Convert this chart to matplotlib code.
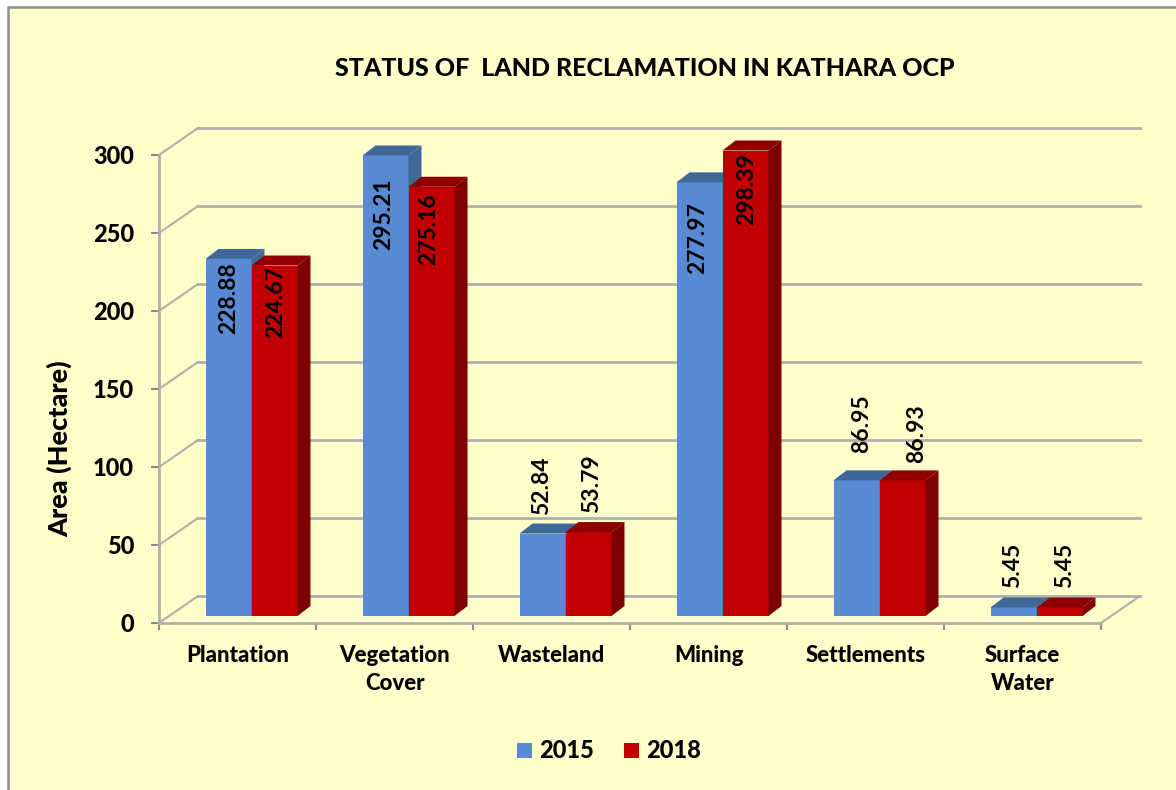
import matplotlib.pyplot as plt
from matplotlib.patches import Polygon, Patch, Rectangle

plt.rcParams['font.family'] = ['Lato', 'DejaVu Sans']

categories = ['Plantation', 'Vegetation\nCover', 'Wasteland', 'Mining', 'Settlements', 'Surface\nWater']
values_2015 = [228.88, 295.21, 52.84, 277.97, 86.95, 5.45]
values_2018 = [224.67, 275.16, 53.79, 298.39, 86.93, 5.45]
y_ticks = [0, 50, 100, 150, 200, 250, 300]

# label centre relative to the bar top centre, in pixels (negative y = inside the bar)
label_shift_2015 = [(0, -39), (-2, -59), (-1, 48), (-2, -56), (5, 57), (-1, 42)]
label_shift_2018 = [(1, -37), (-3, -42), (3, 48), (1, -39), (14, 47), (5, 42)]

W, H = 1176, 790
BG = '#FFFFCC'
GRID = '#B0B0A8'
WEIGHT = 'black'

fig = plt.figure(figsize=(W / 100, H / 100), dpi=100, facecolor='white')

# yellow panel with a grey edge on the left and top
panel = Rectangle((7.5 / W, -0.01), 1.02, 1.01 - 7 / H, transform=fig.transFigure,
                  facecolor=BG, edgecolor='#8C8C8C', linewidth=1.8, zorder=-1)
fig.add_artist(panel)

# axes box is the front of the 3D floor
ax = fig.add_axes([159 / W, 1 - 623 / H, (1101 - 159) / W, (623 - 155) / H])
ax.set_xlim(0, 6)
ax.set_ylim(0, 300)
ax.patch.set_alpha(0)

px_x = 6 / (1101 - 159)
px_y = 300 / (623 - 155)

# depth of the chart floor and where the bars stand on it
wall_dx, wall_dy = 39 * px_x, 27 * px_y
bar_dx, bar_dy = 14 * px_x, 7 * px_y
side_dx, side_dy = 13 * px_x, 10 * px_y
bar_w = 46 * px_x

# back wall grid lines and their diagonals
for v in y_ticks:
    ax.plot([wall_dx, 6 + wall_dx], [v + wall_dy, v + wall_dy], color=GRID, lw=2.0,
            clip_on=False, zorder=1)
    ax.plot([0, wall_dx], [v, v + wall_dy], color=GRID, lw=1.5, clip_on=False, zorder=1)
ax.plot([6, 6 + wall_dx], [0, wall_dy], color=GRID, lw=1.5, clip_on=False, zorder=1)


def draw_bar(x, value, front, top, side):
    base = bar_dy
    height = value
    ax.bar(x, height, bar_w, bottom=base, align='edge', color=front, linewidth=0, zorder=3, clip_on=False)
    y1 = base + height
    ax.add_patch(Polygon([(x, y1), (x + side_dx, y1 + side_dy), (x + bar_w + side_dx, y1 + side_dy), (x + bar_w, y1)],
                         facecolor=top, edgecolor='none', zorder=3, clip_on=False))
    ax.add_patch(Polygon([(x + bar_w, base), (x + bar_w + side_dx, base + side_dy),
                          (x + bar_w + side_dx, y1 + side_dy), (x + bar_w, y1)],
                         facecolor=side, edgecolor='none', zorder=3, clip_on=False))


def draw_label(x, value, shift):
    ax.annotate(f'{value:.2f}', (x + bar_w / 2, bar_dy + value),
                xytext=(shift[0] * 0.72, shift[1] * 0.72), textcoords='offset points',
                rotation=90, ha='center', va='center',
                fontsize=16.5, fontweight='bold', color='black', zorder=5, annotation_clip=False)


for i in range(len(categories)):
    left = i + 0.5 + bar_dx - bar_w
    draw_bar(left, values_2015[i], '#588BD3', '#3F6899', '#3F6899')
    draw_bar(left + bar_w, values_2018[i], '#C00000', '#8E0000', '#7C0000')
    draw_label(left, values_2015[i], label_shift_2015[i])
    draw_label(left + bar_w, values_2018[i], label_shift_2018[i])

for s in ['top', 'right']:
    ax.spines[s].set_visible(False)
for s in ['left', 'bottom']:
    ax.spines[s].set_color(GRID)
    ax.spines[s].set_linewidth(2)
    ax.spines[s].set_zorder(2)

ax.set_yticks(y_ticks)
ax.set_xticks(range(7))
ax.set_xticklabels([])
ax.set_xticks([i + 0.5 for i in range(6)], minor=True)
ax.set_xticklabels(categories, minor=True, fontsize=16, fontweight=WEIGHT, linespacing=1.45)
ax.tick_params(axis='x', which='major', length=5, width=1.5, color='#8A8A90', direction='out')
ax.tick_params(axis='x', which='minor', length=0, pad=15.5)
ax.tick_params(axis='y', length=6, width=1.5, color='#8A8A90', pad=12, labelsize=17, labelcolor='black')
for t in ax.get_yticklabels():
    t.set_fontweight(WEIGHT)

fig.text(645 / W, 1 - 69 / H, 'STATUS OF  LAND RECLAMATION IN KATHARA OCP', ha='center', va='center',
         fontsize=18, fontweight=WEIGHT, color='black')
fig.text(60 / W, 1 - 449 / H, 'Area (Hectare)', rotation=90, ha='center', va='center',
         fontsize=19.5, fontweight=WEIGHT, color='black')

handles = [Patch(facecolor='#588BD3', label='2015'), Patch(facecolor='#C00000', label='2018')]
fig.legend(handles=handles, loc='center', bbox_to_anchor=(609 / W, 1 - 751 / H), ncols=2, frameon=False,
           prop={'size': 17, 'weight': WEIGHT}, handlelength=0.62, handleheight=0.62,
           handletextpad=0.3, columnspacing=1.27)

fig.savefig('out.png', dpi=100, facecolor=fig.get_facecolor())
plt.close(fig)
